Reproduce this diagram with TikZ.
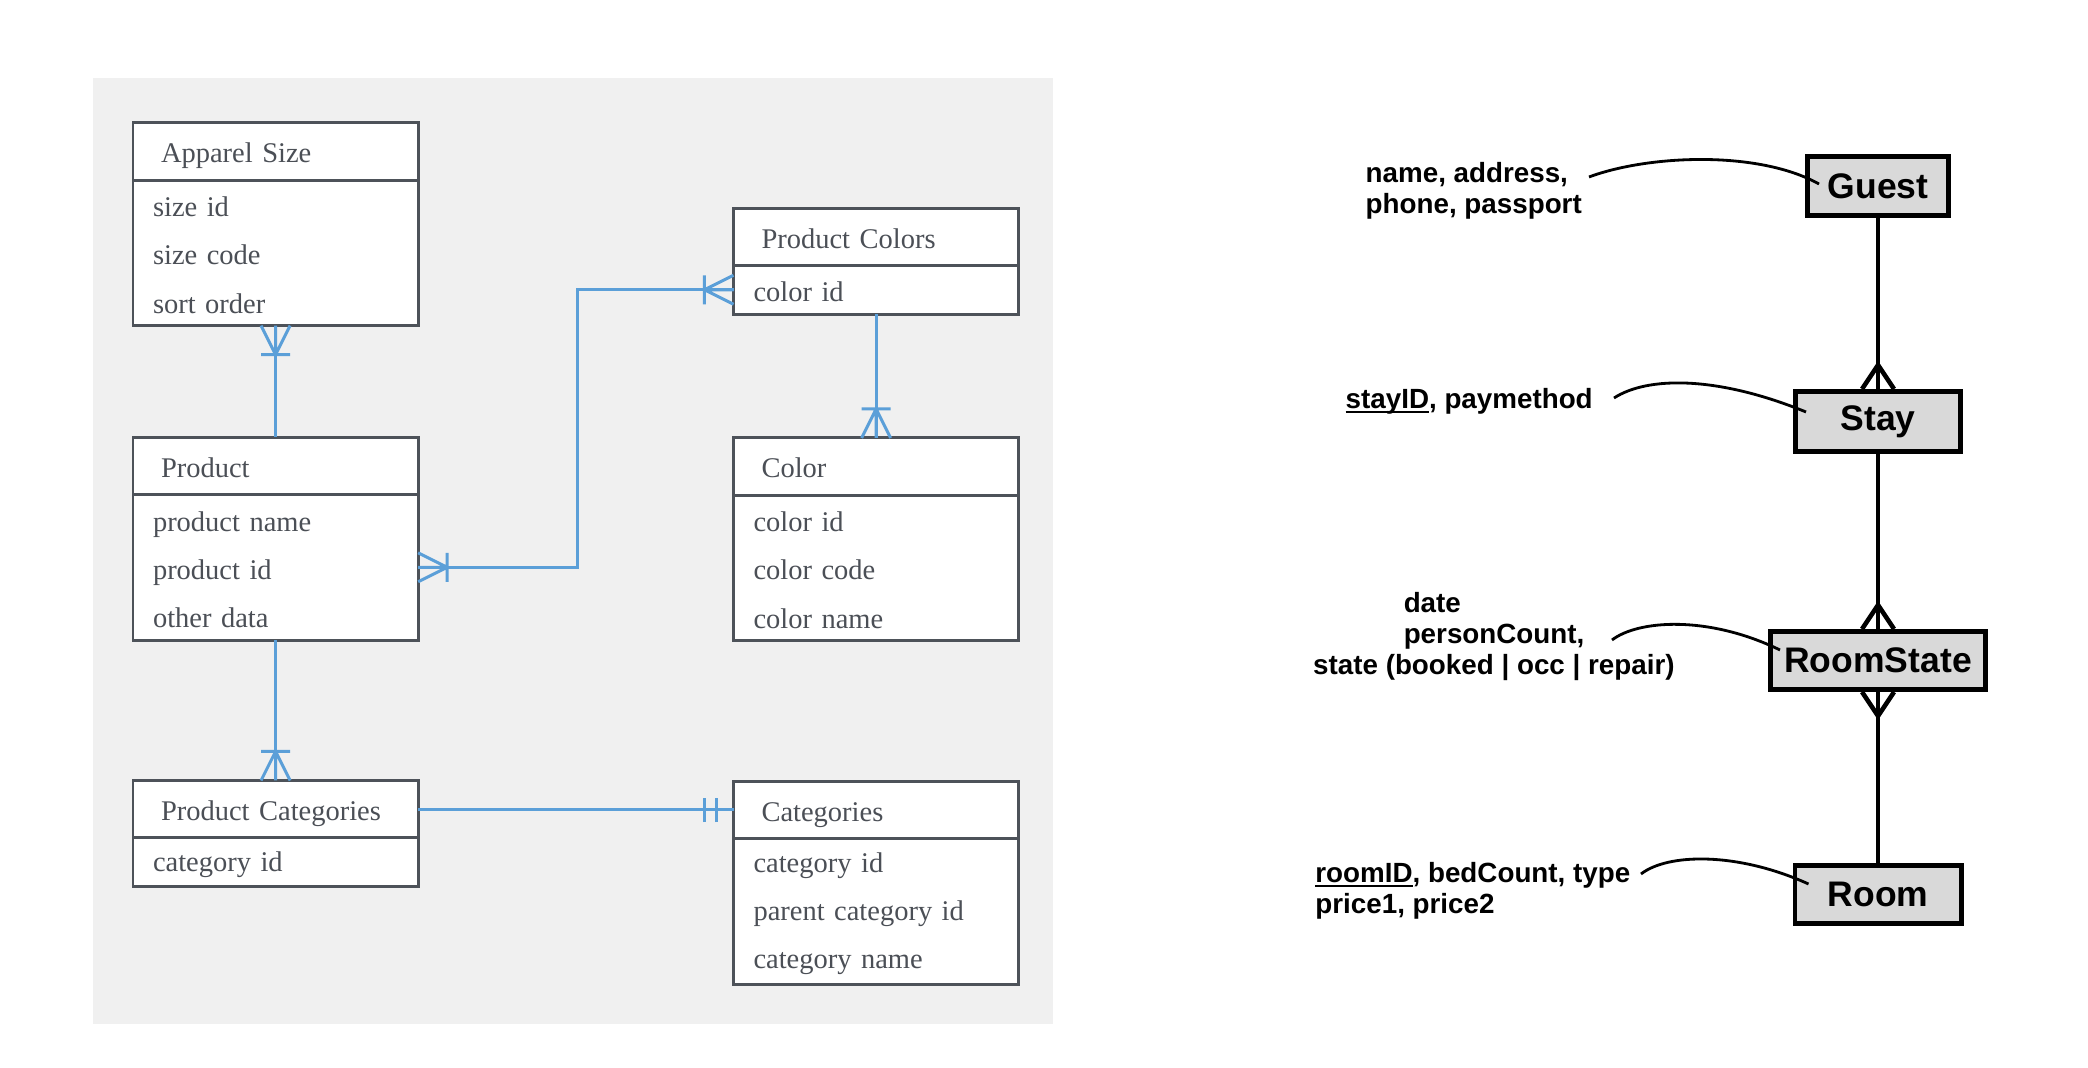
\documentclass[tikz,border=0pt]{standalone}
\usepackage{fontspec}
\setmainfont{Liberation Serif}
\newfontfamily\arialfont{Liberation Sans}
\usetikzlibrary{positioning}
\definecolor{erbg}{HTML}{F0F0F0}
\definecolor{erline}{HTML}{4D5259}
\definecolor{ertext}{HTML}{4B4F56}
\definecolor{erblue}{HTML}{5B9FD8}
\definecolor{entfill}{HTML}{D9D9D9}
\newcommand{\tblfont}{\fontsize{8.1pt}{13.7pt}\selectfont}
\newcommand{\attrfont}{\arialfont\bfseries\fontsize{7.9pt}{8.8pt}\selectfont}
\newcommand{\entfont}{\arialfont\bfseries\fontsize{10.1pt}{12pt}\selectfont}
\newcommand{\keyattr}[1]{\setbox0\hbox{#1}\rlap{\rule[-1.1pt]{\wd0}{0.6pt}}#1}
\tikzset{
  onemany/.pic={\draw (-0.145cm,0cm) -- (0cm,0.29cm) -- (0.145cm,0cm) (0cm,0cm) -- (0cm,0.29cm) (-0.145cm,0.29cm) -- (0.145cm,0.29cm);},
  onlyone/.pic={\draw (-0.12cm,0.17cm) -- (0.12cm,0.17cm) (-0.12cm,0.29cm) -- (0.12cm,0.29cm);},
  many/.pic={\draw (-0.16cm,0cm) -- (0cm,0.24cm) -- (0.16cm,0cm);}
}
\begin{document}
\begin{tikzpicture}[x=0.01cm,y=-0.01cm]
\tikzstyle{every node}+=[inner sep=0pt]
\tikzstyle{tblhead}=[draw=erline, line width=0.85pt, fill=white, outer sep=0pt, anchor=north west, minimum height=0.57cm, text width=2.29cm, inner xsep=0.28cm, text height=8.3pt, text depth=1.8pt, align=left, font=\tblfont, text=ertext]
\tikzstyle{tblbody}=[draw=erline, line width=0.85pt, fill=white, outer sep=0pt, text width=2.45cm, inner xsep=0.2cm, text height=7pt, align=left, font=\tblfont, text=ertext]
\tikzstyle{relline}=[erblue, line width=0.85pt]
\tikzstyle{entity}=[draw=black, line width=1.4pt, fill=entfill, font=\entfont]
\tikzstyle{entlink}=[black, line width=1.3pt]
\tikzstyle{attrtext}=[anchor=north west, align=left, font=\attrfont]
\tikzstyle{notecurve}=[black, line width=0.8pt]
\useasboundingbox (0,0) rectangle (2088,1068);
\fill[erbg] (93,78) rectangle (1053,1024);
\node[tblhead] (asize) at (133,123) {Apparel Size};
\node[tblbody, minimum height=1.455cm, below=0pt of asize] (asizeb) {size id\\size code\\sort order};
\node[tblhead] (prod) at (133,437.5) {Product};
\node[tblbody, minimum height=1.455cm, below=0pt of prod] (prodb) {product name\\product id\\other data};
\node[tblhead] (pcat) at (133,780.5) {Product Categories};
\node[tblbody, minimum height=0.485cm, below=0pt of pcat] (pcatb) {category id};
\node[tblhead] (pcol) at (733.5,208.5) {Product Colors};
\node[tblbody, minimum height=0.485cm, below=0pt of pcol] (pcolb) {color id};
\node[tblhead] (color) at (733.5,438) {Color};
\node[tblbody, minimum height=1.455cm, below=0pt of color] (colorb) {color id\\color code\\color name};
\node[tblhead] (cat) at (733.5,781.5) {Categories};
\node[tblbody, minimum height=1.455cm, below=0pt of cat] (catb) {category id\\parent category id\\category name};
\draw[relline] (asizeb.south) -- (prod.north);
\draw[relline] (prodb.east) -- ++(159,0) |- (pcolb.west);
\draw[relline] (pcolb.south) -- (color.north);
\draw[relline] (prodb.south) -- (pcat.north);
\draw[relline] (pcat.east) -- (pcat.east -| cat.west);
\pic[relline, rotate=180] at (asizeb.south) {onemany};
\pic[relline, rotate=-90] at (prodb.east) {onemany};
\pic[relline, rotate=90] at (pcolb.west) {onemany};
\pic[relline] at (color.north) {onemany};
\pic[relline] at (pcat.north) {onemany};
\pic[relline, rotate=90] at (cat.west) {onlyone};
\node[entity, minimum width=1.41cm, minimum height=0.59cm] (guest) at (1878,186) {Guest};
\node[entity, minimum width=1.65cm, minimum height=0.60cm] (stay) at (1878,421.5) {Stay};
\node[entity, minimum width=2.15cm, minimum height=0.58cm] (rstate) at (1878,660.5) {RoomState};
\node[entity, minimum width=1.66cm, minimum height=0.58cm] (room) at (1878,894.5) {Room};
\draw[entlink] (guest) -- (stay);
\draw[entlink] (stay) -- (rstate);
\draw[entlink] (rstate) -- (room);
\pic[entlink] at (stay.north) {many};
\pic[entlink] at (rstate.north) {many};
\pic[entlink, rotate=180] at (rstate.south) {many};
\node[attrtext] (guesta) at (1365,162) {name, address,\\phone, passport};
\node[attrtext] (staya) at (1345,388) {\keyattr{stayID}, paymethod};
\node[attrtext] (rstatea) at (1312.5,592) {\hspace*{0.905cm}date\\\hspace*{0.905cm}personCount,\\state (booked | occ | repair)};
\node[attrtext] (rooma) at (1314.7,862) {\keyattr{roomID}, bedCount, type\\price1, price2};
\coordinate (guestc) at (1589,177);
\coordinate (stayc) at (1614,398);
\coordinate (rstatec) at (1612,640);
\coordinate (roomc) at (1641,874);
\draw[notecurve] (guestc) .. controls (1648,155) and (1758,150) .. ([xshift=0.14cm,yshift=0.02cm]guest.west);
\draw[notecurve] (stayc) .. controls (1648,376) and (1718,376) .. ([xshift=0.13cm,yshift=0.095cm]stay.west);
\draw[notecurve] (rstatec) .. controls (1638,620) and (1708,615) .. ([xshift=0.12cm,yshift=0.105cm]rstate.west);
\draw[notecurve] (roomc) .. controls (1668,853) and (1738,852) .. ([xshift=0.16cm,yshift=0.105cm]room.west);
\end{tikzpicture}
\end{document}
